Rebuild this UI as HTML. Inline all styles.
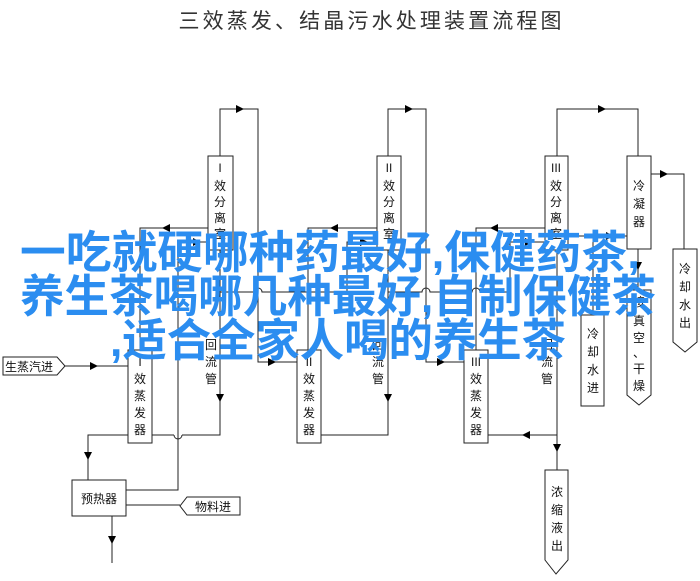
<!DOCTYPE html>
<html><head><meta charset="utf-8"><style>
html,body{margin:0;padding:0;background:#fff;}
svg{display:block;}
</style></head><body>
<svg width="700" height="581" viewBox="0 0 700 581" xmlns="http://www.w3.org/2000/svg">
<text x="371" y="28" text-anchor="middle" font-family="'Liberation Sans','Noto Sans CJK SC',sans-serif" font-size="21" fill="#333" textLength="385" letter-spacing="2">三效蒸发、结晶污水处理装置流程图</text>
<g stroke="#222" stroke-width="1" fill="none">
<!-- stage I -->
<rect x="208" y="156" width="25" height="94" fill="#fff"/>
<polyline points="220,156 220,109 258,109 258,362 297,362"/>
<rect x="128" y="350" width="24" height="93" fill="#fff"/>
<polyline points="140,350 140,228 208,228"/>
<path d="M126,490 L178,490 L178,242 L208,242"/>
<polyline points="220,250 220,435 182,435"/>
<polyline points="174,435 152,435"/>
<path d="M182,435 A4,4 0 0 1 174,435"/>
<polyline points="128,435 88,435 88,480"/>
<path d="M220,292 L254,292 A4,4 0 0 1 262,292 L347,292 L347,242 L377,242"/>
<rect x="72" y="480" width="54" height="36" fill="#fff"/>
<polyline points="112,516 112,563"/>
<polyline points="126,505 180,505"/>
<polyline points="65,366 128,366"/>
<!-- stage II -->
<rect x="377" y="156" width="24" height="94" fill="#fff"/>
<polyline points="388,156 388,109 426,109 426,362 464,362"/>
<rect x="297" y="350" width="24" height="93" fill="#fff"/>
<polyline points="308,350 308,228 377,228"/>
<polyline points="388,250 388,435 321,435"/>
<path d="M388,292 L422,292 A4,4 0 0 1 430,292 L472,292 A4,4 0 0 1 480,292 L510,292 L510,242 L545,242"/>
<!-- stage III -->
<rect x="545" y="156" width="23" height="94" fill="#fff"/>
<polyline points="557,156 557,109 638,109 638,156"/>
<rect x="464" y="350" width="24" height="93" fill="#fff"/>
<polyline points="476,350 476,228 545,228"/>
<polyline points="557,250 557,470"/>
<polyline points="557,435 488,435"/>
<rect x="627" y="156" width="24" height="93" fill="#fff"/>
<polyline points="651,174 684,174 684,249"/>
<polyline points="593,315 593,236 627,236"/>
<polyline points="568,236 593,236"/>
<polyline points="638,249 638,290"/>
<rect x="581" y="315" width="23" height="91" fill="#fff"/>
<path d="M627,290 H651 V395 L639,405 L627,395 Z" fill="#fff"/>
<path d="M673,249 H697 V342 L685,352 L673,342 Z" fill="#fff"/>
<path d="M545,470 H568 V560 L556,574 L545,560 Z" fill="#fff"/>
<path d="M3,357 H57 L65,366 L57,375 H3 Z" fill="#fff"/>
<path d="M187,497 H240 V515 H187 L180,506 Z" fill="#fff"/>
</g>
<g fill="#000">
<path d="M236,105 l8,4 l-8,4z"/><path d="M405,105 l8,4 l-8,4z"/><path d="M598,105 l8,4 l-8,4z"/>
<path d="M170,224 l-8,4 l8,4z"/><path d="M193,238 l8,4 l-8,4z"/>
<path d="M338,224 l-8,4 l8,4z"/><path d="M360,238 l8,4 l-8,4z"/>
<path d="M498,224 l-8,4 l8,4z"/><path d="M525,238 l8,4 l-8,4z"/>
<path d="M606,232 l8,4 l-8,4z"/><path d="M660,170 l8,4 l-8,4z"/>
<path d="M90,362 l8,4 l-8,4z"/><path d="M268,358 l8,4 l-8,4z"/><path d="M437,358 l8,4 l-8,4z"/>
<path d="M216,394 l4,8 l4,-8z"/><path d="M384,394 l4,8 l4,-8z"/>
<path d="M84,452 l4,8 l4,-8z"/><path d="M108,536 l4,8 l4,-8z"/>
<path d="M553,444 l4,8 l4,-8z"/><path d="M634,262 l4,8 l4,-8z"/>
<path d="M530,431 l-8,4 l8,4z"/>
</g>
<g font-family="'Liberation Sans','Noto Sans CJK SC',sans-serif" font-size="12" fill="#111" text-anchor="middle">
<text x="220" y="172">I</text><text x="220" y="190">效</text><text x="220" y="206">分</text><text x="220" y="222">离</text><text x="220" y="238">室</text>
<text x="389" y="172">II</text><text x="389" y="190">效</text><text x="389" y="206">分</text><text x="389" y="222">离</text><text x="389" y="238">室</text>
<text x="556" y="172">III</text><text x="556" y="190">效</text><text x="556" y="206">分</text><text x="556" y="222">离</text><text x="556" y="238">室</text>
<text x="639" y="190">冷</text><text x="639" y="208">凝</text><text x="639" y="226">器</text>
<text x="685" y="273">冷</text><text x="685" y="291">却</text><text x="685" y="309">水</text><text x="685" y="327">出</text>
<text x="140" y="366">I</text><text x="140" y="383">效</text><text x="140" y="400">蒸</text><text x="140" y="417">发</text><text x="140" y="434">器</text>
<text x="309" y="366">II</text><text x="309" y="383">效</text><text x="309" y="400">蒸</text><text x="309" y="417">发</text><text x="309" y="434">器</text>
<text x="476" y="366">III</text><text x="476" y="383">效</text><text x="476" y="400">蒸</text><text x="476" y="417">发</text><text x="476" y="434">器</text>
<text x="211" y="349">回</text><text x="211" y="366">流</text><text x="211" y="383">管</text>
<text x="378" y="349">回</text><text x="378" y="366">流</text><text x="378" y="383">管</text>
<text x="547" y="349">回</text><text x="547" y="366">流</text><text x="547" y="383">管</text>
<text x="593" y="338">冷</text><text x="593" y="356">却</text><text x="593" y="374">水</text><text x="593" y="392">进</text>
<text x="639" y="306">接</text><text x="639" y="325">真</text><text x="639" y="342">空</text><text x="639" y="357">、</text><text x="639" y="373">干</text><text x="639" y="390">燥</text>
<text x="557" y="496">浓</text><text x="557" y="514">缩</text><text x="557" y="532">液</text><text x="557" y="550">出</text>
<text x="99" y="503">预热器</text>
<text x="29" y="371">生蒸汽进</text>
<text x="213" y="511">物料进</text>
</g>
<g font-family="'Liberation Sans','Noto Sans CJK SC',sans-serif" font-size="45" font-weight="bold" fill="#2b8df0">
<text x="20" y="268" textLength="620" lengthAdjust="spacingAndGlyphs">一吃就硬哪种药最好,保健药茶,</text>
<text x="20" y="312" textLength="636" lengthAdjust="spacingAndGlyphs">养生茶喝哪几种最好,自制保健茶</text>
<text x="110" y="356" textLength="456" lengthAdjust="spacingAndGlyphs">,适合全家人喝的养生茶</text>
</g>
</svg>
</body></html>
